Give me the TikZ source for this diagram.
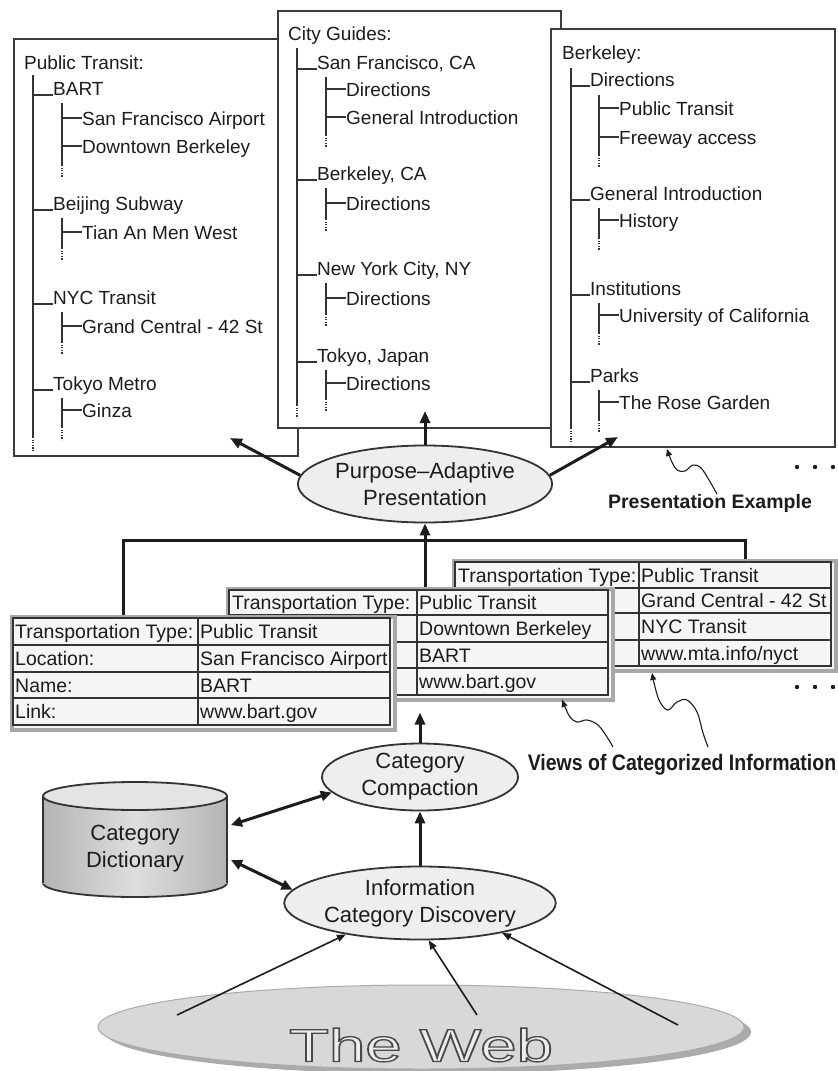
\documentclass[tikz,border=0pt]{standalone}
\usepackage{fontspec}
\setmainfont{Liberation Sans}
\usetikzlibrary{arrows.meta,shapes.geometric}
\definecolor{ink}{HTML}{1C1C1C}
\definecolor{lineg}{HTML}{333333}
\definecolor{panelg}{HTML}{3C3C3C}
\definecolor{ellfill}{HTML}{EEEEEE}
\definecolor{tblfill}{HTML}{F5F5F5}
\definecolor{tblframe}{HTML}{A8A8A8}
\definecolor{webfill}{HTML}{D8D8D8}
\definecolor{webshadow}{HTML}{ABABAB}
\definecolor{cylside}{HTML}{B4B4B4}
\definecolor{cylmid}{HTML}{DEDEDE}
\definecolor{cyltop}{HTML}{E4E4E4}
\newcommand\Lone[5]{%
  \node[treetext,anchor=base west] (#1) at (#3,#4) {#5};
  \draw[treeline] (#2,#4) -- (#1.base west);}
\newcommand\Ltwo[5]{%
  \node[treetext,anchor=base west] (#1) at (#3,{#4+7}) {#5};
  \draw[treeline] (#2,#4) -- (#3,#4);}
\newcommand\Lsub[4]{%
  \draw[treeline] (#1,#2) -- (#1,#3);
  \draw[treedots] (#1,#3) -- (#1,#4);}
\newcommand\outlinetext[1]{%
  \special{pdf:literal direct 0.93 0.93 0.93 rg 0.29 0.29 0.29 RG 1.3 w 2 Tr}#1\special{pdf:literal direct 0 Tr}}
\tikzset{
  treeline/.style={draw=lineg,line width=1.3pt},
  treedots/.style={draw=lineg,line width=1.3pt,dash pattern=on 1.2pt off 1.4pt},
  treetext/.style={font=\fontsize{19}{22}\selectfont,text=ink,inner sep=0pt},
  panel/.style={draw=panelg,line width=2pt,fill=white,anchor=north west,inner sep=0pt},
  proc/.style={ellipse,draw=lineg,line width=1.8pt,fill=ellfill,inner sep=0pt,align=center,font=\fontsize{22}{27}\selectfont,text=ink},
  tblbox/.style={draw=tblframe,line width=3.5pt,fill=tblfill,anchor=north west,inner sep=0pt},
  tblgrid/.style={draw=lineg,line width=1.3pt},
  cell/.style={font=\fontsize{19.5}{22}\selectfont,text=ink,inner sep=0pt,anchor=base west},
  thickarr/.style={draw=ink,line width=3pt,-{Triangle[length=12pt,width=10pt]}},
  dblarr/.style={draw=ink,line width=3pt,{Triangle[length=11pt,width=10pt]}-{Triangle[length=11pt,width=10pt]}},
  thinarr/.style={draw=ink,line width=1.6pt,-{Triangle[length=9pt,width=7pt]}},
  squig/.style={draw=ink,line width=1.1pt,-{Triangle[length=7pt,width=6pt]}},
  caption/.style={font=\fontsize{19.5}{22}\selectfont\bfseries,text=ink,inner sep=0pt},
}
\begin{document}
\begin{tikzpicture}[x=1pt,y=-1pt]
\useasboundingbox (0,0) rectangle (838,1071);
\fill[white] (0,0) rectangle (838,1071);

% ---------- left panel ----------
\node[panel,minimum width=284pt,minimum height=417pt] (pL) at (13,38) {};
\node[treetext,anchor=base west] (lhead) at (24,69) {Public Transit:};
\draw[treeline] (33,75) -- (33,437); \draw[treedots] (33,437) -- (33,452);
\Lone{lbart}{33}{53}{95}{BART}
\Lsub{62}{103}{165}{177}
\Ltwo{lsfa}{62}{82}{118}{San Francisco Airport}
\Ltwo{ldtb}{62}{82}{146}{Downtown Berkeley}
\Lone{lbjs}{33}{53}{210}{Beijing Subway}
\Lsub{62}{218}{248}{260}
\Ltwo{ltam}{62}{82}{232}{Tian An Men West}
\Lone{lnyc}{33}{53}{304}{NYC Transit}
\Lsub{62}{312}{342}{354}
\Ltwo{lgc}{62}{82}{326}{Grand Central - 42 St}
\Lone{ltok}{33}{53}{390}{Tokyo Metro}
\Lsub{62}{398}{427}{440}
\Ltwo{lgin}{62}{82}{410}{Ginza}

% ---------- middle panel ----------
\node[panel,minimum width=283pt,minimum height=417pt] (pM) at (277,10) {};
\node[treetext,anchor=base west] (mhead) at (288,40) {City Guides:};
\draw[treeline] (297,48) -- (297,405); \draw[treedots] (297,405) -- (297,418);
\Lone{msf}{297}{317}{69}{San Francisco, CA}
\Lsub{326}{77}{135}{147}
\Ltwo{msfd}{326}{346}{89}{Directions}
\Ltwo{msfg}{326}{346}{117}{General Introduction}
\Lone{mbk}{297}{317}{180}{Berkeley, CA}
\Lsub{326}{188}{219}{231}
\Ltwo{mbkd}{326}{346}{203}{Directions}
\Lone{mny}{297}{317}{275}{New York City, NY}
\Lsub{326}{283}{314}{326}
\Ltwo{mnyd}{326}{346}{298}{Directions}
\Lone{mtk}{297}{317}{362}{Tokyo, Japan}
\Lsub{326}{370}{399}{411}
\Ltwo{mtkd}{326}{346}{383}{Directions}

% ---------- right panel ----------
\node[panel,minimum width=284pt,minimum height=418pt] (pR) at (550,28) {};
\node[treetext,anchor=base west] (rhead) at (562,59) {Berkeley:};
\draw[treeline] (571,68) -- (571,428); \draw[treedots] (571,428) -- (571,442);
\Lone{rdir}{571}{590}{86}{Directions}
\Lsub{599}{95}{155}{167}
\Ltwo{rpt}{599}{619}{108}{Public Transit}
\Ltwo{rfa}{599}{619}{137}{Freeway access}
\Lone{rgi}{571}{590}{200}{General Introduction}
\Lsub{599}{208}{238}{250}
\Ltwo{rhi}{599}{619}{220}{History}
\Lone{rins}{571}{590}{295}{Institutions}
\Lsub{599}{303}{333}{345}
\Ltwo{ruc}{599}{619}{315}{University of California}
\Lone{rpk}{571}{590}{382}{Parks}
\Lsub{599}{390}{420}{432}
\Ltwo{rrg}{599}{619}{402}{The Rose Garden}

% ---------- purpose-adaptive presentation ----------
\node[proc,minimum width=236pt,minimum height=77pt] (purp) at (425,484) {Purpose--Adaptive\\Presentation};
\coordinate (tipL) at (230,438);
\coordinate (tipM) at (425,411);
\coordinate (tipR) at (618,437);
\draw[thickarr] (purp.176) -- (tipL);
\draw[thickarr] (purp.north) -- (tipM);
\draw[thickarr] (purp.4) -- (tipR);

\node[caption] (pex) at (710,503) {Presentation Example};
\draw[squig] plot[smooth,tension=0.6] coordinates {(717,494) (709,480) (701,468) (693,465) (685,471) (677,470) (671,460) (667,449)};
\foreach \dx in {797,815,833} {\fill[ink] (\dx,467) circle (2.2); \fill[ink] (\dx,687) circle (2.2);}

% ---------- tables ----------
\node[tblbox,minimum width=382pt,minimum height=110pt] (T3) at (452,559) {};
\draw[tblgrid] (455,562) rectangle (831,666);
\draw[tblgrid] (455,588) -- (831,588) (455,613) -- (831,613) (455,640) -- (831,640) (639,562) -- (639,666);
\node[cell] (t3a) at (458,582) {Transportation Type:};
\node[cell] (t3b) at (641,582) {Public Transit};
\node[cell] (t3c) at (641,607.5) {Grand Central - 42 St};
\node[cell] (t3d) at (641,633.5) {NYC Transit};
\node[cell] (t3e) at (641,660) {www.mta.info/nyct};

\node[tblbox,minimum width=385pt,minimum height=111pt] (T2) at (226,587) {};
\draw[tblgrid] (229,590) rectangle (608,695);
\draw[tblgrid] (229,615) -- (608,615) (229,642) -- (608,642) (229,668) -- (608,668) (417,590) -- (417,695);
\node[cell] (t2a) at (232,609.5) {Transportation Type:};
\node[cell] (t2b) at (419,609.5) {Public Transit};
\node[cell] (t2c) at (419,635.5) {Downtown Berkeley};
\node[cell] (t2d) at (419,662) {BART};
\node[cell] (t2e) at (419,688.5) {www.bart.gov};

\node[tblbox,minimum width=383pt,minimum height=113pt] (T1) at (10,615) {};
\draw[tblgrid] (13,618) rectangle (390,725);
\draw[tblgrid] (13,645) -- (390,645) (13,672) -- (390,672) (13,698) -- (390,698) (198,618) -- (198,725);
\node[cell] (t1a) at (15,638.5) {Transportation Type:};
\node[cell] (t1b) at (15,665.5) {Location:};
\node[cell] (t1c) at (15,692) {Name:};
\node[cell] (t1d) at (15,718.5) {Link:};
\node[cell] (t1e) at (200,638.5) {Public Transit};
\node[cell] (t1f) at (200,665.5) {San Francisco Airport};
\node[cell] (t1g) at (200,692) {BART};
\node[cell] (t1h) at (200,718.5) {www.bart.gov};

% bracket joining the views
\coordinate (bl) at (123,540);
\coordinate (br) at (745,540);
\draw[draw=ink,line width=3pt] (bl |- T1.north) -- (bl) -- (br) -- (br |- T3.north);
\draw[thickarr] (purp.south |- T2.north) -- (purp.south);

\node[caption] (vci) at (682,765) {\scalebox{1}[1.15]{Views of Categorized Information}};
\draw[squig] plot[smooth,tension=0.6] coordinates {(613,747) (607,737) (598,725) (587,720) (577,722) (570,717) (565,707) (562,700)};
\draw[squig] plot[smooth,tension=0.6] coordinates {(708,747) (703,733) (697,712) (687,700) (677,702) (668,710) (660,702) (655,687) (652,673)};

% ---------- lower processing ----------
\node[proc,minimum width=196pt,minimum height=67pt] (comp) at (420,777) {Category\\Compaction};
\node[proc,minimum width=252pt,minimum height=73pt] (info) at (420,903) {Information\\Category Discovery};
\draw[thickarr,shorten >=11pt] (comp.north) -- (comp.north |- T2.south);
\draw[thickarr] (info.north) -- (comp.south);

% cylinder
\shade[left color=cylside,right color=cylside,middle color=cylmid,draw=lineg,line width=1.8pt] (135,883) ellipse [x radius=92,y radius=14];
\shade[left color=cylside,right color=cylside,middle color=cylmid] (43,796) rectangle (227,883);
\draw[lineg,line width=1.8pt] (43,796) -- (43,883) (227,796) -- (227,883);
\filldraw[fill=cyltop,draw=lineg,line width=1.8pt] (135,796) ellipse [x radius=92,y radius=14];
\node[align=center,font=\fontsize{22}{27}\selectfont,text=ink,inner sep=0pt] (dict) at (135,849) {Category\\Dictionary};
\coordinate (d1) at (231,825);
\coordinate (d2) at (231,860);
\draw[dblarr] (d1) -- (comp.190);
\draw[dblarr] (d2) -- (info.174);

% the web
\fill[webshadow] (428,1032) ellipse [x radius=323,y radius=42];
\node[ellipse,fill=webfill,draw=webshadow,line width=1pt,minimum width=646pt,minimum height=84pt,inner sep=0pt] (web) at (421,1027) {};
\node[inner sep=0pt] (webtext) at (421,1045) {\fontsize{46}{50}\selectfont\scalebox{1.42}[1]{\outlinetext{The Web}}};
\coordinate (w1) at (177,1015);
\coordinate (w2) at (477,1015);
\coordinate (w3) at (678,1025);
\draw[thinarr] (w1) -- (info.203.5);
\draw[thinarr] (w2) -- (info.-77);
\draw[thinarr] (w3) -- (info.-20);
\end{tikzpicture}
\end{document}
